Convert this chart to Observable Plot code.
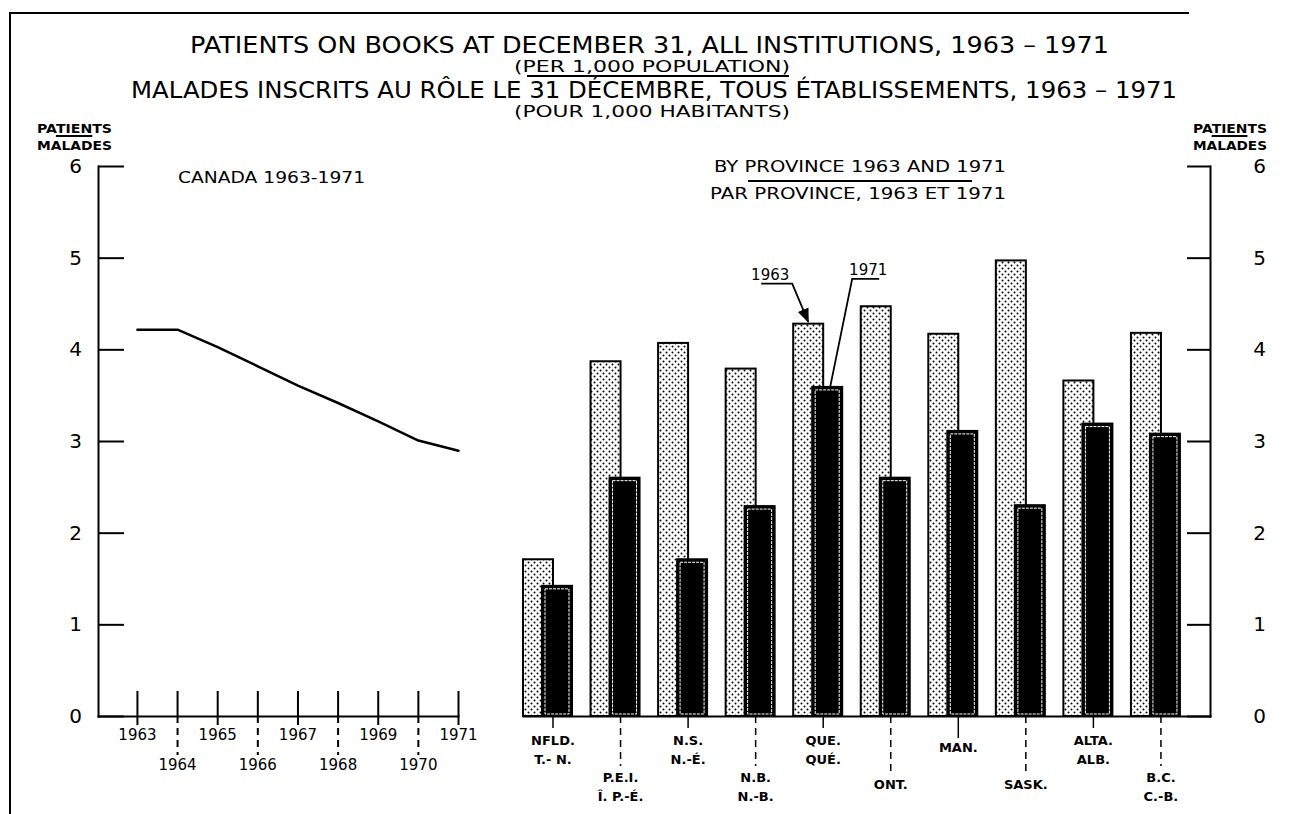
<!DOCTYPE html>
<html><head><meta charset="utf-8">
<script src="https://cdn.jsdelivr.net/npm/d3@7"></script>
<script src="https://cdn.jsdelivr.net/npm/@observablehq/plot@0.6"></script>
<style>
html,body{margin:0;padding:0;background:#fff;}
#wrap{position:relative;width:1292px;height:814px;overflow:hidden;background:#fff;font-family:"DejaVu Sans",sans-serif;color:#000;}
.t{position:absolute;white-space:nowrap;transform-origin:0 50%;line-height:1;}
.t u{text-decoration:underline;text-decoration-thickness:1.5px;text-underline-offset:2px;}
.rule{position:absolute;background:#000;}
svg{position:absolute;top:0;}
</style></head><body><div id="wrap"></div>
<script>
// ---- data ----
const years = [1963, 1964, 1965, 1966, 1967, 1968, 1969, 1970, 1971];
const canadaRate = [4.22, 4.22, 4.03, 3.82, 3.61, 3.42, 3.22, 3.01, 2.90];
const provinces = ["NFLD.", "P.E.I.", "N.S.", "N.B.", "QUE.", "ONT.", "MAN.", "SASK.", "ALTA.", "B.C."];
const provinceLabels = ["NFLD.\nT.- N.", "P.E.I.\nÎ. P.-É.", "N.S.\nN.-É.", "N.B.\nN.-B.", "QUE.\nQUÉ.", "ONT.", "MAN.", "SASK.", "ALTA.\nALB.", "B.C.\nC.-B."];
const rate1963 = [1.71, 3.87, 4.07, 3.79, 4.28, 4.47, 4.17, 4.97, 3.66, 4.18];
const rate1971 = [1.42, 2.60, 1.71, 2.29, 3.59, 2.60, 3.11, 2.30, 3.19, 3.08];
const yTicks = [0, 1, 2, 3, 4, 5, 6];
const provUpper = ["NFLD.", "N.S.", "QUE.", "ALTA."];
const provMid = ["MAN."];
const provLower = ["P.E.I.", "N.B.", "B.C."];
const provLowest = ["ONT.", "SASK."];

const wrap = document.getElementById("wrap");
const labelOf = Object.fromEntries(provinces.map((p, i) => [p, provinceLabels[i]]));
const canadaData = years.map((y, i) => ({year: y, rate: canadaRate[i]}));
const provData = provinces.map((p, i) => ({prov: p, v63: rate1963[i], v71: rate1971[i]}));
const oddYears = years.filter(y => y % 2 === 1);
const evenYears = years.filter(y => y % 2 === 0);

const common = {
  height: 814, marginTop: 166, marginBottom: 98,
  style: {background: "transparent", overflow: "visible", fontFamily: "DejaVu Sans, sans-serif", color: "#000"},
  y: {domain: [0, 6]}
};

// ---- left: Canada line ----
const left = Plot.plot({
  ...common,
  width: 500, marginLeft: 98, marginRight: 42,
  x: {type: "linear", domain: [1962.03, 1971]},
  marks: [
    Plot.frame({anchor: "left", stroke: "#000", strokeWidth: 2}),
    Plot.frame({anchor: "bottom", stroke: "#000", strokeWidth: 2}),
    Plot.axisY({ticks: yTicks, tickSize: -26, tickPadding: 49, textAnchor: "middle", fontSize: 20, strokeWidth: 2, label: null, tickFormat: d => String(d)}),
    Plot.axisX({ticks: years, tickSize: -25, strokeWidth: 2, label: null, tickFormat: () => ""}),
    Plot.axisX({ticks: oddYears, tickSize: 9, tickPadding: 4, fontSize: 15, strokeWidth: 2, label: null, tickFormat: d => String(d)}),
    Plot.axisX({ticks: evenYears, tickSize: 39, tickPadding: 4, fontSize: 15, strokeWidth: 2, strokeDasharray: "7,5", label: null, tickFormat: d => String(d)}),
    Plot.line(canadaData, {x: "year", y: "rate", stroke: "#000", strokeWidth: 2.5, strokeLinejoin: "round"})
  ]
});
left.style.left = "0px";
wrap.appendChild(left);

// ---- right: provinces bars ----
const right = Plot.plot({
  ...common,
  width: 792, marginLeft: 23, marginRight: 82,
  x: {type: "band", domain: provinces, paddingInner: 0.2747, paddingOuter: 0.2225, align: 0, round: false},
  marks: [
    Plot.barY(provData, {x: "prov", y: "v63", insetRight: 19, fill: "url(#dots)", stroke: "#000", strokeWidth: 2}),
    Plot.barY(provData, {x: "prov", y: "v71", insetLeft: 19, fill: "#000", stroke: "#000", strokeWidth: 2}),
    Plot.barY(provData, {x: "prov", y: "v71", insetLeft: 22, insetRight: 3, insetTop: 3, insetBottom: 2, fill: "none", stroke: "#fff", strokeWidth: 1, strokeDasharray: "3,1"}),
    Plot.frame({anchor: "right", stroke: "#000", strokeWidth: 2}),
    Plot.frame({anchor: "bottom", stroke: "#000", strokeWidth: 2}),
    Plot.axisY({anchor: "right", ticks: yTicks, tickSize: -24, tickPadding: 73, textAnchor: "middle", fontSize: 20, strokeWidth: 2, label: null, tickFormat: d => String(d)}),
    Plot.axisX({ticks: provUpper, tickSize: 12, tickPadding: 3, dx: 5, fontSize: 13, fontWeight: "bold", lineHeight: 1.45, strokeWidth: 1.5, label: null, tickFormat: d => labelOf[d]}),
    Plot.axisX({ticks: provMid, tickSize: 22, tickPadding: 4, dx: 5, fontSize: 13, fontWeight: "bold", strokeWidth: 1.5, label: null, tickFormat: d => labelOf[d]}),
    Plot.axisX({ticks: provLower, tickSize: 50, tickPadding: 2, dx: 5, fontSize: 13, fontWeight: "bold", lineHeight: 1.45, strokeWidth: 1.5, strokeDasharray: "7,5", label: null, tickFormat: d => labelOf[d]}),
    Plot.axisX({ticks: provLowest, tickSize: 60, tickPadding: 3, dx: 5, fontSize: 13, fontWeight: "bold", strokeWidth: 1.5, strokeDasharray: "7,5", label: null, tickFormat: d => labelOf[d]})
  ]
});
right.style.left = "500px";
wrap.appendChild(right);

// dotted pattern for 1963 bars
const defs = document.createElementNS("http://www.w3.org/2000/svg", "defs");
defs.innerHTML = '<pattern id="dots" patternUnits="userSpaceOnUse" width="6" height="6"><rect width="6" height="6" fill="#fff"/><circle cx="1.5" cy="1.5" r="1" fill="#000"/><circle cx="4.5" cy="4.5" r="1" fill="#000"/></pattern>' +
  '<marker id="ah" viewBox="0 0 10 10" refX="9" refY="5" markerWidth="8" markerHeight="8" orient="auto-start-reverse"><path d="M0,1 L10,5 L0,9 z" fill="#000"/></marker>';
right.insertBefore(defs, right.firstChild);

// annotations pointing to Quebec bars, placed through the plot's scales
{
  const sx = right.scale("x"), sy = right.scale("y");
  const bw = sx.bandwidth;
  const q = provData[provinces.indexOf("QUE.")];
  const x63 = sx.apply("QUE.") + (bw - 19) / 2, y63 = sy.apply(q.v63);
  const x71 = sx.apply("QUE.") + 19 + (bw - 19) / 2, y71 = sy.apply(q.v71);
  const g = d3.select(right).append("g").attr("fill", "none").attr("stroke", "#000").attr("stroke-width", 1.8);
  g.append("path").attr("d", `M${x63 - 47},${y63 - 40}H${x63 - 16}L${x63},${y63 - 2}`).attr("marker-end", "url(#ah)");
  g.append("path").attr("d", `M${x71 + 52},${y71 - 108}H${x71 + 25}L${x71 + 3},${y71}`);
  const tg = d3.select(right).append("g").attr("font-size", 15).attr("text-anchor", "middle").attr("fill", "#000");
  tg.append("text").attr("x", x63 - 38).attr("y", y63 - 44).text("1963");
  tg.append("text").attr("x", x71 + 41).attr("y", y71 - 112).text("1971");
}

// ---- texts ----
function txt(html, o) {
  const d = document.createElement("div");
  d.className = "t";
  d.innerHTML = html;
  d.style.fontSize = o.size + "px";
  d.style.fontWeight = o.weight || 400;
  if (o.ls) d.style.letterSpacing = o.ls + "px";
  wrap.appendChild(d);
  const r = d.getBoundingClientRect();
  const s = o.width ? o.width / r.width : 1;
  const w = r.width * s;
  const x0 = o.left !== undefined ? o.left : o.cx - w / 2;
  d.style.left = x0 + "px";
  d.style.top = (o.cy - r.height / 2) + "px";
  d.style.transform = `scaleX(${s})`;
}
function rule(x, y, w, h) {
  const d = document.createElement("div");
  d.className = "rule";
  Object.assign(d.style, {left: x + "px", top: y + "px", width: w + "px", height: h + "px"});
  wrap.appendChild(d);
}

txt("PATIENTS ON BOOKS AT DECEMBER 31, ALL INSTITUTIONS, 1963 – 1971", {left: 190, cy: 45, size: 23, width: 919});
txt("(PER 1,000 POPULATION)", {left: 514, cy: 67.5, size: 15, width: 276});
rule(527, 75, 262, 2);
txt("MALADES INSCRITS AU RÔLE LE 31 DÉCEMBRE, TOUS ÉTABLISSEMENTS, 1963 – 1971", {left: 131, cy: 90, size: 23, width: 1046});
txt("(POUR 1,000 HABITANTS)", {left: 514, cy: 112.5, size: 15, width: 276});

txt("PA<u>TIEN</u>TS", {cx: 74, cy: 129, size: 12, weight: 700, width: 75});
txt("MALADES", {cx: 74, cy: 146, size: 12, weight: 700, width: 75});
txt("PA<u>TIEN</u>TS", {cx: 1230, cy: 129, size: 12, weight: 700, width: 74});
txt("MALADES", {cx: 1230, cy: 146, size: 12, weight: 700, width: 74});

txt("CANADA 1963-1971", {left: 178, cy: 178, size: 16, width: 187});
txt("BY PROVINCE 1963 AND 1971", {left: 714, cy: 167, size: 16, width: 292});
rule(748, 180, 224, 2);
txt("PAR PROVINCE, 1963 ET 1971", {left: 710, cy: 194, size: 16, width: 296});

// border of the sheet
rule(9, 12, 2, 802);
rule(9, 12, 1180, 2);
</script></body></html>
